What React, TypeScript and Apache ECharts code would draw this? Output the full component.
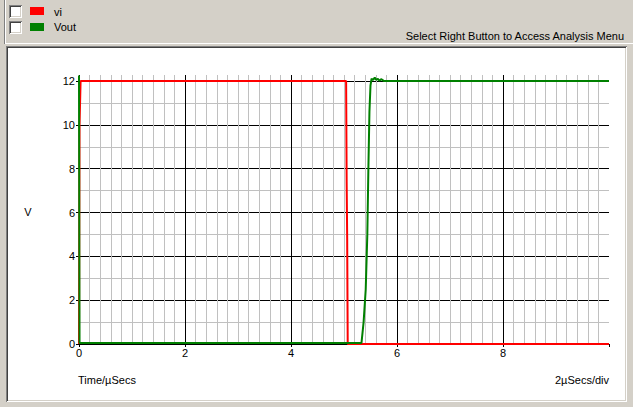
import React, { useEffect, useRef } from "react";
import * as echarts from "echarts";

// ---- data ----
const seriesNames = ["vi", "Vout"];
const viTime = [0, 0.01, 0.03, 5.04, 5.05, 5.06, 5.07, 10];
const viValue = [0, 10, 12, 12, 7.4, 4.8, 0, 0];
const voutTime = [0, 0.01, 5.33, 5.37, 5.41, 5.44, 5.46, 5.48, 5.5, 5.52, 5.55, 5.58, 5.61, 5.64, 5.67, 5.7, 5.75, 10];
const voutValue = [12.25, 0.05, 0.05, 1.0, 2.5, 5.0, 8.0, 10.6, 11.8, 12.1, 12.05, 12.15, 12.05, 12.1, 12.0, 12.08, 12.0, 12.0];
const xTickLabels = [0, 2, 4, 6, 8];
const yTickLabels = [0, 2, 4, 6, 8, 10, 12];

const FONT = "Liberation Sans, Arial, sans-serif";

export default function App() {
  const ref = useRef<HTMLDivElement>(null);
  useEffect(() => {
    document.body.style.margin = "0";
    const chart = echarts.init(ref.current!, null, { renderer: "svg" });
    const zip = (t: number[], v: number[]) => t.map((x, i) => [x, v[i]]);
    const gray = "#d4d0c8";
    const labelStyle = { color: "#000", fontFamily: FONT, fontSize: 11 };
    const option: any = {
      animation: false,
      backgroundColor: gray,
      grid: [
        { left: 79, right: 24, top: 75, bottom: 63 },
        { left: 79, right: 24, top: 81, bottom: 63 },
      ],
      xAxis: [
        {
          type: "value",
          gridIndex: 0,
          min: 0,
          max: 10,
          interval: 2,
          axisLine: { show: true, lineStyle: { color: "#000", width: 1 } },
          axisTick: { show: true, length: 3, lineStyle: { color: "#000" } },
          axisLabel: {
            ...labelStyle,
            margin: 3,
            formatter: (v: number) => (xTickLabels.includes(v) ? String(v) : ""),
          },
          splitLine: { show: true, showMaxLine: false, lineStyle: { color: "#000", width: 1 } },
          minorTick: { show: false, splitNumber: 10 },
          minorSplitLine: { show: true, lineStyle: { color: "#c0c0c0", width: 1 } },
        },
        {
          type: "value",
          gridIndex: 1,
          min: 0,
          max: 10,
          interval: 2,
          show: false,
        },
      ],
      yAxis: [
        {
          type: "value",
          gridIndex: 0,
          min: 0,
          max: 12.27,
          show: false,
          splitLine: { show: false },
        },
        {
          type: "value",
          gridIndex: 1,
          min: 0,
          max: 12,
          interval: 2,
          axisLine: { show: true, lineStyle: { color: "#000", width: 1 } },
          axisTick: { show: true, length: 3, lineStyle: { color: "#000" } },
          axisLabel: {
            ...labelStyle,
            margin: 4,
            formatter: (v: number) => (yTickLabels.includes(v) ? String(v) : ""),
          },
          splitLine: { show: true, lineStyle: { color: "#000", width: 1 } },
          minorTick: { show: false, splitNumber: 2 },
          minorSplitLine: { show: true, lineStyle: { color: "#c0c0c0", width: 1 } },
        },
      ],
      series: [
        {
          name: seriesNames[0],
          type: "line",
          xAxisIndex: 0,
          yAxisIndex: 0,
          data: zip(viTime, viValue),
          showSymbol: false,
          symbol: "none",
          lineStyle: { color: "#ff0000", width: 2 },
          itemStyle: { color: "#ff0000" },
        },
        {
          name: seriesNames[1],
          type: "line",
          xAxisIndex: 0,
          yAxisIndex: 0,
          data: zip(voutTime, voutValue),
          showSymbol: false,
          symbol: "none",
          lineStyle: { color: "#008000", width: 2 },
          itemStyle: { color: "#008000" },
        },
      ],
      graphic: [
        // top panel edges
        { type: "line", shape: { x1: 4.5, y1: 0, x2: 4.5, y2: 44 }, style: { stroke: "#808080", lineWidth: 1 }, z: -1 },
        { type: "line", shape: { x1: 5.5, y1: 0, x2: 5.5, y2: 43 }, style: { stroke: "#ffffff", lineWidth: 1 }, z: -1 },
        { type: "line", shape: { x1: 5, y1: 43.5, x2: 633, y2: 43.5 }, style: { stroke: "#ffffff", lineWidth: 1 }, z: -1 },
        // plot panel (white, sunken)
        { type: "rect", shape: { x: 6, y: 46, width: 621, height: 356 }, style: { fill: "#808080" }, z: -10 },
        { type: "rect", shape: { x: 7, y: 47, width: 620, height: 355 }, style: { fill: "#ffffff" }, z: -10 },
        { type: "rect", shape: { x: 7, y: 47, width: 619, height: 354 }, style: { fill: "#404040" }, z: -10 },
        { type: "rect", shape: { x: 8, y: 48, width: 618, height: 353 }, style: { fill: gray }, z: -10 },
        { type: "rect", shape: { x: 8, y: 48, width: 617, height: 352 }, style: { fill: "#ffffff" }, z: -10 },
        // checkboxes
        ...[5, 21].flatMap((y) => [
          { type: "rect", shape: { x: 9, y, width: 13, height: 13 }, style: { fill: "#808080" } },
          { type: "rect", shape: { x: 10, y: y + 1, width: 12, height: 12 }, style: { fill: "#ffffff" } },
          { type: "rect", shape: { x: 10, y: y + 1, width: 11, height: 11 }, style: { fill: "#404040" } },
          { type: "rect", shape: { x: 11, y: y + 2, width: 10, height: 10 }, style: { fill: gray } },
          { type: "rect", shape: { x: 11, y: y + 2, width: 9, height: 9 }, style: { fill: "#ffffff" } },
        ]),
        // swatches
        { type: "rect", shape: { x: 30, y: 7, width: 14, height: 8 }, style: { fill: "#ff0000" } },
        { type: "rect", shape: { x: 30, y: 23, width: 14, height: 8 }, style: { fill: "#008000" } },
        { type: "text", x: 54, y: 12, style: { text: seriesNames[0], fontFamily: FONT, fontSize: 11, fill: "#000", textVerticalAlign: "middle" } },
        { type: "text", x: 54, y: 27, style: { text: seriesNames[1], fontFamily: FONT, fontSize: 11, fill: "#000", textVerticalAlign: "middle" } },
        {
          type: "text",
          x: 624,
          y: 36,
          style: { text: "Select Right Button to Access Analysis Menu", fontFamily: FONT, fontSize: 11, fill: "#000", textAlign: "right", textVerticalAlign: "middle" },
        },
        { type: "text", x: 28, y: 212, style: { text: "V", fontFamily: FONT, fontSize: 11, fill: "#000", textAlign: "center", textVerticalAlign: "middle" } },
        { type: "text", x: 78, y: 380, style: { text: "Time/µSecs", fontFamily: FONT, fontSize: 11, fill: "#000", textVerticalAlign: "middle" } },
        { type: "text", x: 609, y: 380, style: { text: "2µSecs/div", fontFamily: FONT, fontSize: 11, fill: "#000", textAlign: "right", textVerticalAlign: "middle" } },
      ],
    };
    chart.setOption(option);
    return () => chart.dispose();
  }, []);
  return <div ref={ref} style={{ width: 633, height: 407 }} />;
}
